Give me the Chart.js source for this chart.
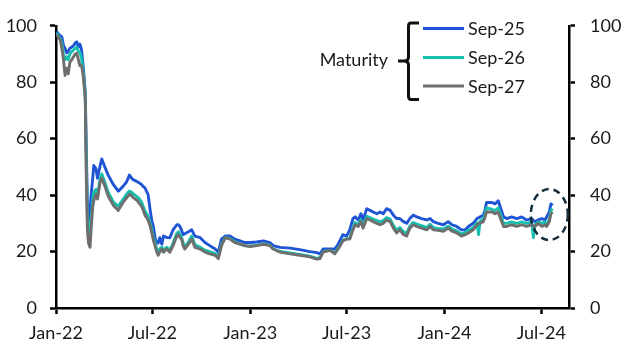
<!DOCTYPE html>
<html>
<head>
<meta charset="utf-8">
<script src="https://cdn.jsdelivr.net/npm/chart.js@4"></script>
<style>
  html, body { margin: 0; padding: 0; background: #fff; }
  canvas { display: block; }
</style>
</head>
<body>
<canvas id="chart" width="630" height="354"></canvas>
<script>
// Days since 1 Jan 2022 for each sample
var days = [
    1, 4, 8, 11, 14, 17, 20, 23, 26, 33,
    36, 39, 42, 45, 48, 51, 55, 57, 59, 61,
    63, 64, 66, 69, 71, 75, 78, 83, 86, 92,
    98, 108, 117, 126, 133, 138, 142, 145, 152, 155,
    161, 164, 167, 173, 177, 180, 183, 186, 189, 192,
    195, 199, 202, 208, 214, 220, 227, 230, 233, 236,
    239, 242, 249, 255, 261, 271, 280, 289, 299, 305,
    311, 318, 327, 336, 346, 355, 365, 377, 390, 402,
    408, 421, 440, 458, 477, 490, 496, 502, 515, 524,
    530, 534, 539, 546, 552, 558, 562, 568, 573, 577,
    584, 590, 596, 603, 609, 615, 621, 628, 634, 640,
    646, 653, 659, 665, 671, 678, 687, 697, 703, 709,
    718, 728, 737, 744, 753, 762, 769, 775, 784, 791,
    794, 797, 803, 806, 809, 819, 825, 831, 834, 841,
    847, 856, 866, 875, 884, 894, 897, 900, 906, 913,
    919, 922, 927, 930, 933
];

var sep25 = [
    98, 97.2, 96.5, 96, 93, 92, 90.4, 91, 92, 93,
    93.9, 94.3, 92.5, 93.5, 91.5, 86, 76.8, 55, 38, 32,
    31, 34, 40, 46, 50.5, 49.4, 46, 50.5, 52.8, 49.9,
    47.1, 43.7, 41.4, 43.1, 44.8, 47.1, 46, 45.5, 44.8, 44.5,
    43.7, 43, 42.6, 40.3, 34.6, 31, 28.9, 25, 23.2, 23,
    24.9, 22.6, 25.5, 25, 24.9, 27.7, 29.5, 29.5, 28.9, 27.5,
    26, 26.3, 27, 27.7, 25.5, 24.9, 23.2, 22.1, 20.9, 19.8,
    24.4, 25.5, 25.5, 24.4, 23.8, 23.2, 23.2, 23.4, 23.8, 23.2,
    22.1, 21.5, 21.2, 20.7, 20, 19.6, 19.2, 20.9, 20.9, 20.9,
    22.6, 24, 26, 25.5, 27.7, 31.7, 32.3, 31.2, 33.4, 31.2,
    35.2, 34.6, 34, 33.4, 34, 33.4, 35.2, 34.6, 32.9, 31.7,
    31.7, 30.6, 30, 31.7, 32.9, 32.3, 31.7, 31.2, 31.7, 30.6,
    30, 29.5, 30.6, 29.5, 28.9, 27.7, 27.7, 28.9, 30, 31.7,
    32, 32.3, 32.9, 34.6, 37.4, 37.4, 36.9, 38, 36.3, 32.3,
    31.7, 32.3, 31.7, 32.3, 31.2, 31.7, 31, 30.6, 31.2, 31.7,
    31.2, 32.3, 34, 36.9, 36.3
];

var sep26 = [
    97.5, 96.5, 95.5, 94, 90, 88, 89, 88, 90, 91.5,
    92, 92.5, 91, 90.5, 88.5, 84, 75, 50, 32, 26,
    24, 27, 32, 38, 41, 42, 40, 46, 47.5, 44.5,
    41, 37.5, 36, 38.5, 40.5, 41.5, 41, 40.5, 39.5, 39,
    37.5, 36, 34.5, 32.5, 30, 28, 25, 23.5, 21, 20,
    21, 21.5, 20.5, 21.5, 20.5, 23, 26.5, 27, 26, 25,
    23, 21.5, 23.5, 25.5, 22.5, 21.5, 20.5, 20, 19.3, 18,
    22.5, 25, 24.6, 23.5, 22.6, 22, 22, 22.3, 22.8, 22.3,
    21, 20, 19.5, 19, 18.4, 17.6, 17.8, 20, 20.5, 19.5,
    21.2, 22.3, 24, 24.6, 24.6, 28.5, 30.3, 29.5, 31.3, 29,
    32.5, 32, 31.5, 31, 30.5, 31, 32, 31.5, 29.3, 27.5,
    28.5, 27, 26.5, 29, 30.3, 29.7, 29.2, 28.5, 29.7, 28.5,
    28.2, 28, 29, 28, 27.3, 26.2, 26.8, 27.5, 28.5, 30.2,
    26, 30.8, 31.5, 33, 35.5, 35, 34.5, 35.5, 34, 30,
    30, 30.5, 30, 30.5, 30, 30.5, 25, 29.5, 30.5, 30,
    30.5, 29.5, 31.5, 34.5, 35.2
];

var sep27 = [
    97, 96, 95, 92, 88, 82.4, 85, 83, 87, 89,
    90, 90.3, 88, 85.8, 86, 82.4, 74, 45, 27.8, 23,
    22, 21.5, 28, 35.8, 38, 40.3, 38.6, 44.8, 46, 43.1,
    39.7, 36.3, 34.6, 37.4, 39.1, 40.3, 39.8, 39.1, 38.2, 37.4,
    36, 34.6, 33, 31.2, 29, 26.6, 24, 22.1, 20, 18.7,
    19.8, 20.9, 19.8, 20.9, 19.8, 22.1, 25.5, 26, 25, 24.4,
    22, 20.9, 22.6, 24.4, 21.5, 20.9, 19.8, 19.2, 18.7, 17.5,
    22.1, 24.9, 24.4, 23.2, 22.6, 22.1, 21.8, 22.1, 22.6, 22.1,
    20.9, 19.8, 19.2, 18.7, 18.1, 17.3, 17.5, 19.8, 20.4, 19.2,
    20.9, 22.1, 23.8, 24.4, 24.4, 27.7, 29.5, 28.9, 30.6, 28.3,
    31.7, 31.2, 30.6, 30, 29.5, 30, 31.2, 30.6, 28.3, 26.6,
    27.7, 26, 25.5, 28.3, 29.5, 28.9, 28.3, 27.7, 28.9, 27.7,
    27.5, 27.2, 28.3, 27.2, 26.6, 25.5, 26, 26.6, 27.7, 29.5,
    30, 30, 30.6, 32, 34, 34, 33.4, 34, 32.3, 28.9,
    28.9, 29.5, 28.9, 29.5, 28.9, 29.5, 29, 28.9, 30, 28.9,
    29.5, 28.9, 30.6, 33.4, 34
];

var seriesNames = ["Sep-25", "Sep-26", "Sep-27"];
var seriesColors = ["#1f55d4", "#17bfae", "#6e6e6e"];
var legendTitle = "Maturity";

var xTickDays = [0, 181, 365, 546, 730, 912];
var xTickLabels = ["Jan-22", "Jul-22", "Jan-23", "Jul-23", "Jan-24", "Jul-24"];
var xMax = 964;

// circled point at the end of the series
var circleAt = { day: 927, value: 33.1 };

function toPoints(vals) {
    return vals.map(function (v, i) { return { x: days[i], y: v }; });
}

Chart.defaults.font.family = "Lato, 'Liberation Sans', sans-serif";
Chart.defaults.font.size = 18;
Chart.defaults.color = "#1a1a1a";

var decorations = {
    id: "decorations",
    afterDatasetsDraw: function (chart) {
        var ctx = chart.ctx;
        var cx = chart.scales.x.getPixelForValue(circleAt.day);
        var cy = chart.scales.y.getPixelForValue(circleAt.value);
        ctx.save();
        ctx.strokeStyle = "#152c3a";
        ctx.lineWidth = 2.5;
        ctx.setLineDash([7, 5]);
        ctx.beginPath();
        ctx.ellipse(cx, cy, 18.5, 25.5, 0, 0, Math.PI * 2);
        ctx.stroke();
        ctx.restore();
    },
    afterDraw: function (chart) {
        var ctx = chart.ctx;
        ctx.save();
        // bracket
        ctx.strokeStyle = "#111";
        ctx.lineWidth = 3;
        ctx.lineJoin = "round";
        ctx.beginPath();
        ctx.moveTo(419, 23);
        ctx.lineTo(411, 23);
        ctx.quadraticCurveTo(408.5, 23, 408.5, 26);
        ctx.lineTo(408.5, 57);
        ctx.quadraticCurveTo(408.5, 61, 404, 61);
        ctx.lineTo(398, 61);
        ctx.moveTo(404, 61);
        ctx.quadraticCurveTo(408.5, 61, 408.5, 65);
        ctx.lineTo(408.5, 96);
        ctx.quadraticCurveTo(408.5, 99.5, 411, 99.5);
        ctx.lineTo(419, 99.5);
        ctx.stroke();

        // legend lines and labels
        var rows = [28.5, 57.5, 86];
        ctx.lineWidth = 3;
        ctx.font = "18px " + Chart.defaults.font.family;
        ctx.textBaseline = "middle";
        ctx.fillStyle = "#1a1a1a";
        for (var i = 0; i < rows.length; i++) {
            ctx.strokeStyle = seriesColors[i];
            ctx.beginPath();
            ctx.moveTo(423, rows[i]);
            ctx.lineTo(464, rows[i]);
            ctx.stroke();
            ctx.textAlign = "left";
            ctx.fillText(seriesNames[i], 468, rows[i] + 1);
        }
        ctx.textAlign = "right";
        ctx.fillText(legendTitle, 388, 60);
        ctx.restore();
    }
};

function axisStyle() {
    return {
        grid: {
            display: true,
            drawOnChartArea: false,
            drawTicks: true,
            tickLength: 6,
            tickWidth: 2.5,
            tickColor: "#000"
        },
        border: { display: true, color: "#000", width: 2.5 }
    };
}

new Chart("chart", {
    type: "line",
    data: {
        datasets: [
            { label: seriesNames[0], data: toPoints(sep25), borderColor: seriesColors[0], order: 3 },
            { label: seriesNames[1], data: toPoints(sep26), borderColor: seriesColors[1], order: 2 },
            { label: seriesNames[2], data: toPoints(sep27), borderColor: seriesColors[2], order: 1 }
        ]
    },
    options: {
        responsive: false,
        animation: false,
        devicePixelRatio: 1,
        layout: { padding: { top: 15, left: 0, right: 0, bottom: 0 } },
        elements: {
            line: { borderWidth: 2.9, tension: 0, borderJoinStyle: "round" },
            point: { radius: 0 }
        },
        plugins: {
            legend: { display: false },
            tooltip: { enabled: false }
        },
        scales: {
            x: Object.assign(axisStyle(), {
                type: "linear",
                min: 0,
                max: xMax,
                afterBuildTicks: function (scale) {
                    scale.ticks = xTickDays.map(function (d) { return { value: d }; });
                },
                afterFit: function (scale) { scale.height = 46; },
                ticks: {
                    autoSkip: false,
                    maxRotation: 0,
                    minRotation: 0,
                    padding: 8,
                    callback: function (value, index) { return xTickLabels[index]; }
                }
            }),
            y: Object.assign(axisStyle(), {
                position: "left",
                min: 0,
                max: 100,
                afterFit: function (scale) { scale.width = 56; },
                ticks: { stepSize: 20, padding: 13 }
            }),
            y2: Object.assign(axisStyle(), {
                position: "right",
                min: 0,
                max: 100,
                afterFit: function (scale) { scale.width = 61; },
                ticks: { stepSize: 20, padding: 15 }
            })
        }
    },
    plugins: [decorations]
});
</script>
</body>
</html>
